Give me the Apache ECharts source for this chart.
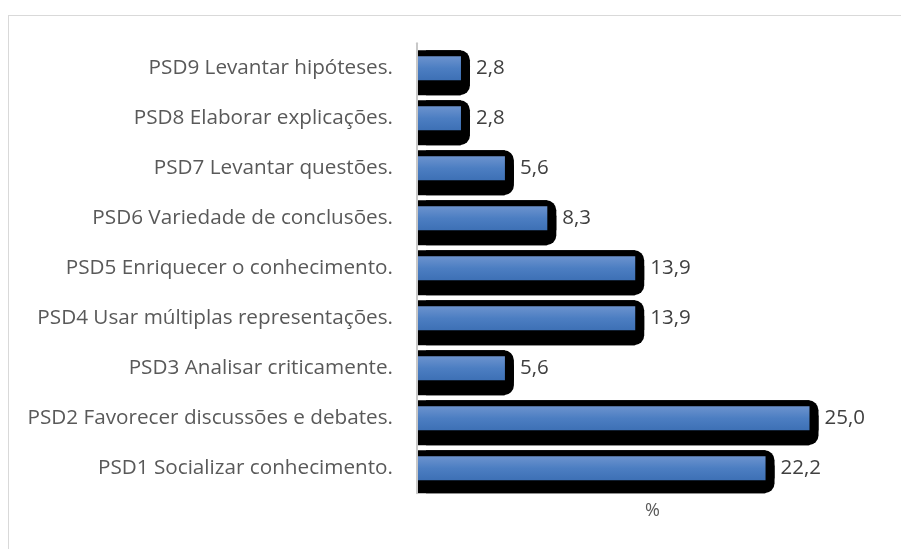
<!DOCTYPE html>
<html>
<head>
<meta charset="utf-8">
<script src="https://cdn.jsdelivr.net/npm/echarts@6/dist/echarts.min.js"></script>
<style>
  html, body { margin: 0; padding: 0; background: #fff; }
  .frame {
    position: absolute; left: 8px; top: 15px; width: 1000px; height: 600px;
    border: 1px solid #d9d9d9;
  }
  #chart { position: absolute; left: 0; top: 0; width: 901px; height: 549px; }
</style>
</head>
<body>
<div class="frame"></div>
<div id="chart"></div>
<script>
// categories bottom -> top
const categories = [
  'PSD1 Socializar conhecimento.',
  'PSD2 Favorecer discussões e debates.',
  'PSD3 Analisar criticamente.',
  'PSD4 Usar múltiplas representações.',
  'PSD5 Enriquecer o conhecimento.',
  'PSD6 Variedade de conclusões.',
  'PSD7 Levantar questões.',
  'PSD8 Elaborar explicações.',
  'PSD9 Levantar hipóteses.'
]
const percentages = [22.2, 25.0, 5.6, 13.9, 13.9, 8.3, 5.6, 2.8, 2.8]

const X_MAX = 30
const GRID_LEFT = 417
const GRID_RIGHT = 13
const PLOT_W = 901 - GRID_LEFT - GRID_RIGHT
const OUTLINE_PX = 9   // how far the black outline sticks out on the right
const shift = OUTLINE_PX / (PLOT_W / X_MAX)

const blueFill = {
  type: 'linear', x: 0, y: 0, x2: 0, y2: 1,
  colorStops: [
    { offset: 0, color: '#6c93ce' },
    { offset: 0.5, color: '#4c7ec2' },
    { offset: 1, color: '#3d70b5' }
  ]
}

const blackBody = {
  color: '#000',
  shadowColor: '#000',
  shadowBlur: 0,
  shadowOffsetX: 0,
  shadowOffsetY: -6
}

const chart = echarts.init(document.getElementById('chart'))
chart.setOption({
  animation: false,
  grid: { left: GRID_LEFT, right: GRID_RIGHT, top: 43.3, bottom: 55.7, containLabel: false },
  xAxis: [
    {
      type: 'value',
      min: 0,
      max: X_MAX,
      name: '%',
      nameLocation: 'middle',
      nameGap: 9,
      nameTextStyle: { color: '#595959', fontSize: 18, fontFamily: 'Open Sans' },
      axisLine: { show: false },
      axisTick: { show: false },
      axisLabel: { show: false },
      splitLine: { show: false }
    },
    {
      // hidden helper axis, shifted right so the outline extends past the bar end
      type: 'value',
      min: -shift,
      max: X_MAX - shift,
      show: false
    }
  ],
  yAxis: {
    type: 'category',
    data: categories,
    z: 10,
    axisLine: { show: true, lineStyle: { color: '#c8c8c8', width: 2 } },
    axisTick: { show: false },
    axisLabel: {
      color: '#595959',
      fontSize: 20.7,
      fontFamily: 'Open Sans',
      margin: 24
    }
  },
  series: [
    {
      type: 'bar',
      xAxisIndex: 1,
      data: percentages,
      barWidth: 39,
      barGap: '-100%',
      silent: true,
      itemStyle: Object.assign({ borderRadius: [0, 10, 10, 0] }, blackBody)
    },
    {
      type: 'bar',
      xAxisIndex: 0,
      data: percentages,
      barWidth: 39,
      barGap: '-100%',
      silent: true,
      itemStyle: blackBody
    },
    {
      type: 'bar',
      xAxisIndex: 0,
      data: percentages,
      barWidth: 24,
      barGap: '-100%',
      itemStyle: { color: blueFill },
      label: {
        show: true,
        position: 'right',
        distance: 15,
        color: '#404040',
        fontSize: 20.5,
        fontFamily: 'Open Sans',
        formatter: p => p.value.toFixed(1).replace('.', ',')
      }
    }
  ]
})
</script>
</body>
</html>
